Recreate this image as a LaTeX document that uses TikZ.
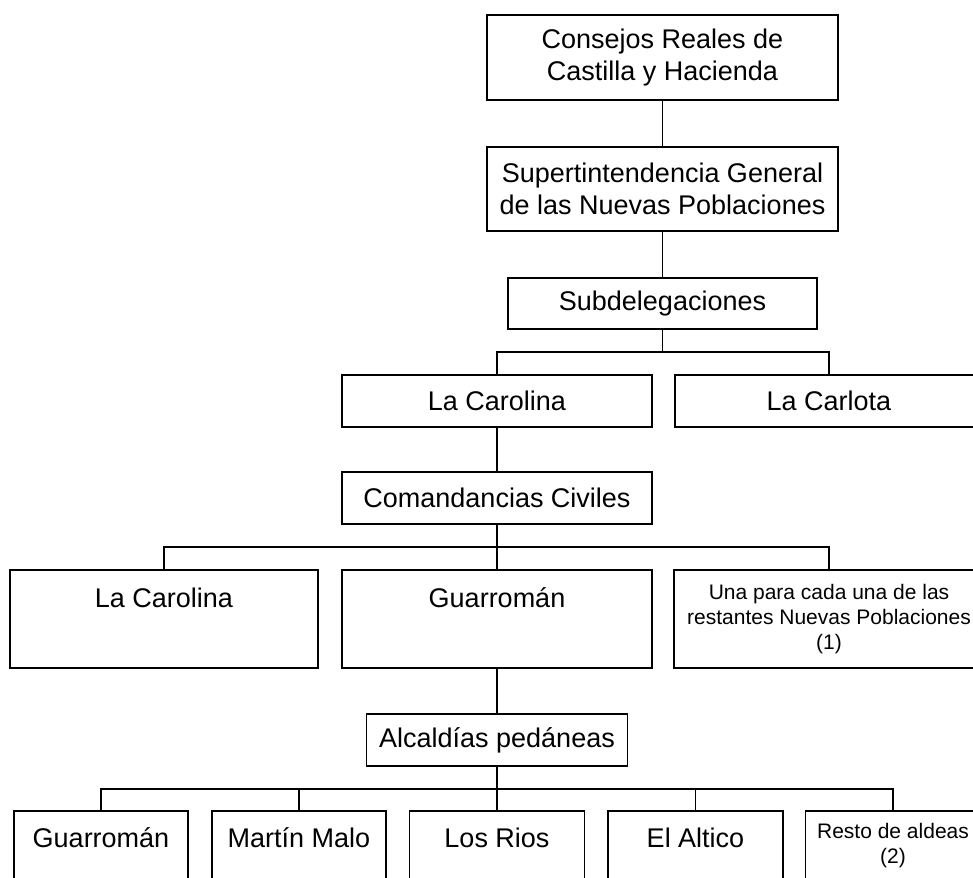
\documentclass[tikz,border=0pt]{standalone}
\usepackage{fontspec}
\setmainfont{Liberation Sans}
\begin{document}
\begin{tikzpicture}[x=1pt,y=-1pt,
  box/.style={draw, line width=1.8pt, rectangle, inner sep=0pt},
  big/.style={font=\fontsize{27}{32}\selectfont, align=center, inner sep=0pt},
  small/.style={font=\fontsize{21}{25}\selectfont, align=center, inner sep=0pt},
  conn/.style={line width=1.8pt}]
\useasboundingbox (0,0) rectangle (973,877);
\clip (0,0) rectangle (973,877);

% top levels
\node[box, big, minimum width=351pt, minimum height=85pt] (b1) at (662.5,57.5) {Consejos Reales de\\Castilla y Hacienda};
\node[box, big, minimum width=351pt, minimum height=84pt] (b2) at (662.5,189) {Supertintendencia General\\de las Nuevas Poblaciones};
\node[box, big, minimum width=309pt, minimum height=51pt] (sub) at (662.5,303.5) {Subdelegaciones};

% subdelegaciones
\node[box, big, minimum width=310pt, minimum height=52pt] (car3) at (497,401) {La Carolina};
\node[box, big, minimum width=308pt, minimum height=52pt] (carl) at (829,401) {La Carlota};

\node[box, big, minimum width=310pt, minimum height=52pt] (com) at (497,498) {Comandancias Civiles};

% comandancias
\node[box, minimum width=308pt, minimum height=98pt] (r4a) at (164,619) {};
\node[box, minimum width=310pt, minimum height=98pt] (r4b) at (497,619) {};
\node[box, minimum width=310pt, minimum height=98pt] (r4c) at (829,619) {};
\node[big, anchor=base] (t4a) at (164,607) {La Carolina};
\node[big, anchor=base] (t4b) at (497,607) {Guarromán};
\node[small] (t4c) at (829,619) {Una para cada una de las\\restantes Nuevas Poblaciones\\(1)};

\node[box, big, minimum width=261pt, minimum height=52pt] (alc) at (497,740) {Alcaldías pedáneas};

% aldeas
\node[box, minimum width=174pt, minimum height=98pt] (a1) at (101,860) {};
\node[box, minimum width=174pt, minimum height=98pt] (a2) at (299,860) {};
\node[box, minimum width=175pt, minimum height=98pt] (a3) at (497,860) {};
\node[box, minimum width=175pt, minimum height=98pt] (a4) at (695.5,860) {};
\node[box, minimum width=175pt, minimum height=98pt] (a5) at (893,860) {};
\node[big, anchor=base] (ta1) at (101,847) {Guarromán};
\node[big, anchor=base] (ta2) at (299,847) {Martín Malo};
\node[big, anchor=base] (ta3) at (497,847) {Los Rios};
\node[big, anchor=base] (ta4) at (695.5,847) {El Altico};
\node[small] (ta5) at (893,846) {Resto de aldeas\\(2)};

% junctions
\coordinate (j1) at (662.5,352);
\coordinate (j2) at (497,547);
\coordinate (j3) at (497,789);

% connectors
\draw[conn] (b1.south) -- (b2.north);
\draw[conn] (b2.south) -- (sub.north);
\draw[conn] (sub.south) -- (j1);
\draw[conn] (j1) -| (car3.north);
\draw[conn] (j1) -| (carl.north);
\draw[conn] (car3.south) -- (com.north);
\draw[conn] (com.south) -- (j2);
\draw[conn] (j2) -| (r4a.north);
\draw[conn] (j2) -- (r4b.north);
\draw[conn] (j2) -| (r4c.north);
\draw[conn] (r4b.south) -- (alc.north);
\draw[conn] (alc.south) -- (j3);
\draw[conn] (j3) -| (a1.north);
\draw[conn] (j3) -| (a2.north);
\draw[conn] (j3) -- (a3.north);
\draw[conn] (j3) -| (a4.north);
\draw[conn] (j3) -| (a5.north);
\end{tikzpicture}
\end{document}
